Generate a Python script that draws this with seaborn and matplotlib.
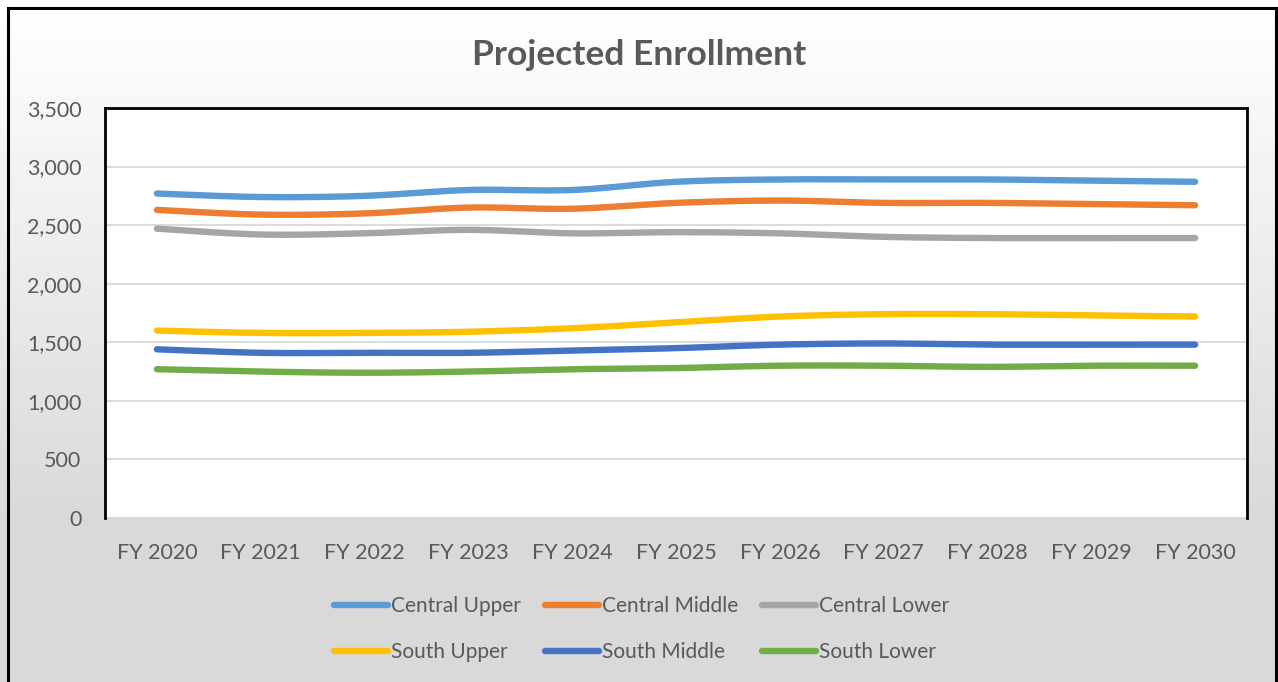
import numpy as np
import pandas as pd
import matplotlib
matplotlib.use("Agg")
import matplotlib.pyplot as plt
import matplotlib.patches as patches
from matplotlib.ticker import FuncFormatter
import seaborn as sns

# Data
years = ["FY 2020", "FY 2021", "FY 2022", "FY 2023", "FY 2024", "FY 2025",
         "FY 2026", "FY 2027", "FY 2028", "FY 2029", "FY 2030"]
central_upper = [2770, 2740, 2750, 2800, 2800, 2870, 2890, 2890, 2890, 2880, 2870]
central_middle = [2630, 2590, 2600, 2650, 2640, 2690, 2710, 2690, 2690, 2680, 2670]
central_lower = [2470, 2420, 2430, 2460, 2430, 2440, 2430, 2400, 2390, 2390, 2390]
south_upper = [1600, 1580, 1580, 1590, 1620, 1670, 1720, 1740, 1740, 1730, 1720]
south_middle = [1440, 1410, 1410, 1410, 1430, 1450, 1480, 1490, 1480, 1480, 1480]
south_lower = [1270, 1250, 1240, 1250, 1270, 1280, 1300, 1300, 1290, 1300, 1300]

series_names = ["Central Upper", "Central Middle", "Central Lower",
                "South Upper", "South Middle", "South Lower"]
series_values = [central_upper, central_middle, central_lower,
                 south_upper, south_middle, south_lower]
colors = ["#5B9BD5", "#ED7D31", "#A5A5A5", "#FFC000", "#4472C4", "#70AD47"]


def smooth(x, y, n=30):
    # Excel-style smoothed line: cubic Bezier through each point
    pts = np.column_stack([x, y]).astype(float)
    p = np.vstack([pts[0], pts, pts[-1]])
    t = np.linspace(0, 1, n)[:, None]
    out = []
    for i in range(1, len(p) - 2):
        p0, p1, p2, p3 = p[i - 1], p[i], p[i + 1], p[i + 2]
        c1 = p1 + (p2 - p0) / 6
        c2 = p2 - (p3 - p1) / 6
        seg = (1 - t) ** 3 * p1 + 3 * (1 - t) ** 2 * t * c1 + 3 * (1 - t) * t ** 2 * c2 + t ** 3 * p2
        out.append(seg if i == 1 else seg[1:])
    out = np.vstack(out)
    return out[:, 0], out[:, 1]


def main():
    sns.set_theme(style="white")
    plt.rcParams['font.family'] = ['Lato', 'DejaVu Sans']
    text_color = "#595959"

    W, H = 1278, 682
    fig = plt.figure(figsize=(W / 100, H / 100), dpi=100)

    # gradient background: white at top to light grey at plot bottom, flat below
    bg = fig.add_axes([0, 0, 1, 1], zorder=-10)
    rows = np.arange(H)
    frac = np.clip(rows / 518.0, 0, 1)
    shade = 1.0 - frac * (1.0 - 0xD9 / 255.0)
    grad = np.repeat(shade[:, None], 2, axis=1)
    bg.imshow(grad, cmap="gray", vmin=0, vmax=1, aspect="auto",
              extent=[0, 1, 0, 1], origin="upper")
    bg.set_axis_off()

    # outer chart border
    fig.patches.append(patches.Rectangle((8 / W, -0.05), (1276 - 8) / W, 1 - 8 / H + 0.05,
                                         transform=fig.transFigure, fill=False,
                                         edgecolor="black", linewidth=2.2, zorder=5))

    ax = fig.add_axes([105 / W, 1 - 518 / H, (1247 - 105) / W, (518 - 108) / H])
    ax.set_facecolor("white")

    x = np.arange(len(years))
    for name, vals, c in zip(series_names, series_values, colors):
        xs, ys = smooth(x, vals)
        sns.lineplot(x=xs, y=ys, ax=ax, color=c, linewidth=4.6, label=name,
                     sort=False, estimator=None, solid_capstyle="round")

    ax.set_xlim(-0.5, len(years) - 0.5)
    ax.set_ylim(0, 3500)
    ax.set_yticks(np.arange(0, 3501, 500))
    ax.yaxis.set_major_formatter(FuncFormatter(lambda v, p: f"{int(v):,}"))
    ax.set_xticks(x)
    ax.set_xticklabels(years)
    ax.grid(axis="y", color="#D9D9D9", linewidth=1.3)
    ax.set_axisbelow(True)
    ax.tick_params(axis="both", length=0, labelsize=15.5, colors=text_color)
    ax.tick_params(axis="y", pad=17)
    ax.tick_params(axis="x", pad=18)

    for side in ["left", "top", "right"]:
        ax.spines[side].set_color("black")
        ax.spines[side].set_linewidth(2)
    ax.spines["bottom"].set_visible(False)

    fig.text(0.5, 1 - 55 / H, "Projected Enrollment", ha="center", va="center",
             fontsize=25.5, fontweight="bold", color=text_color)

    handles, labels = ax.get_legend_handles_labels()
    ax.get_legend().remove()
    # matplotlib fills legend columns first; reorder so rows read left to right
    order = [0, 3, 1, 4, 2, 5]
    leg = fig.legend([handles[i] for i in order], [labels[i] for i in order],
                     loc="center", bbox_to_anchor=(0.502, 1 - 629 / H),
                     ncol=3, frameon=False, fontsize=15, handlelength=2.6,
                     handletextpad=0.15, columnspacing=1.15, labelspacing=1.25)
    for t in leg.get_texts():
        t.set_color(text_color)
    for l in leg.get_lines():
        l.set_linewidth(4.6)
        l.set_solid_capstyle("round")

    fig.savefig("out.png", dpi=100)
    plt.close(fig)


if __name__ == '__main__':
    main()
